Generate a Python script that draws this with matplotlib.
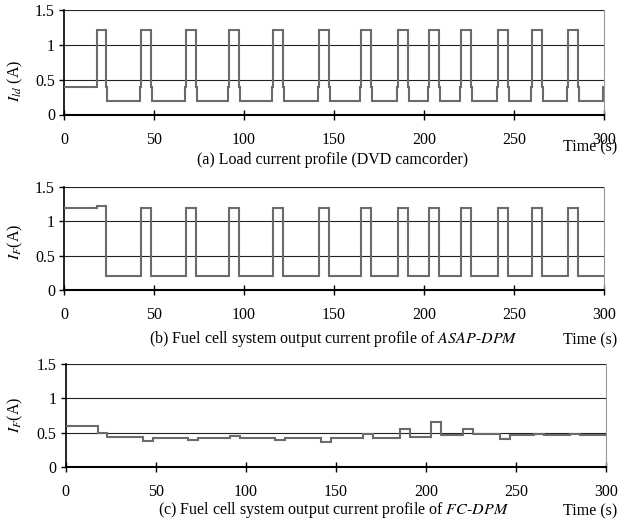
import numpy as np
import matplotlib
matplotlib.use("Agg")
import matplotlib.pyplot as plt

plt.rcParams['font.family'] = ['Liberation Serif', 'DejaVu Serif']
plt.rcParams['mathtext.fontset'] = 'stix'

# pulse edges (s)
rises = [18.3, 42.8, 67.8, 91.5, 116.3, 141.8, 165.0, 185.7, 202.8, 220.6, 241.3, 260.2, 280.2]
falls = [23.3, 48.3, 73.3, 97.0, 121.8, 147.4, 170.6, 191.3, 208.3, 226.1, 246.8, 265.7, 285.7]

# current levels (A)
load_start = 0.40
load_high = 1.22
load_low = 0.20
load_step = 0.40     # short intermediate level at each edge
load_tail = 299.5    # last rise back to 0.4

asap_start = [1.20, 1.22]
asap_high = 1.20
asap_low = 0.20

# FC-DPM output, one level per segment between consecutive edges
fc_levels = [0.60, 0.50, 0.43, 0.38, 0.42, 0.40, 0.42, 0.45, 0.42, 0.40,
             0.42, 0.37, 0.42, 0.48, 0.42, 0.55, 0.44, 0.66, 0.47, 0.55,
             0.48, 0.41, 0.47, 0.48, 0.47, 0.48, 0.47]

captions = ["(a) Load current profile (DVD camcorder)",
            "(b) Fuel cell system output current profile of $\\mathit{ASAP\\text{-}DPM}$",
            "(c) Fuel cell system output current profile of $\\mathit{FC\\text{-}DPM}$"]
ylabels = [r"$I_{ld}$ (A)", r"$I_F$(A)", r"$I_F$(A)"]

T_END = 300.0
NOTCH = 0.5

# ---- build step profiles ----
def load_profile():
    edges = [0.0]
    vals = []
    cur = load_start
    for r, f in zip(rises, falls):
        if cur != load_start:
            vals += [cur, load_step]
            edges += [r - NOTCH, r]
        else:
            vals += [cur]
            edges += [r]
        vals += [load_high, load_step]
        edges += [f, f + NOTCH]
        cur = load_low
    vals += [load_low, load_step]
    edges += [load_tail, T_END]
    return np.array(edges), np.array(vals)


def asap_profile():
    edges = [0.0, rises[0], falls[0]]
    vals = list(asap_start)
    for r, f in zip(rises[1:], falls[1:]):
        vals += [asap_low, asap_high]
        edges += [r, f]
    vals += [asap_low]
    edges += [T_END]
    return np.array(edges), np.array(vals)


def fc_profile():
    edges = [0.0]
    for r, f in zip(rises, falls):
        edges += [r, f]
    edges += [T_END]
    return np.array(edges), np.array(fc_levels)


W, H = 618, 523
fig = plt.figure(figsize=(W / 100, H / 100), dpi=100)

# axes boxes in pixels: left, top(1.5), right, bottom(0)
boxes = [(64, 10, 604, 114.5), (64, 187, 604, 290), (65.5, 364, 606, 467)]
label_y = [0.32, 0.47, 0.51]
cap_y = [160, 339, 510]
time_y = [147, 340, 511]
profiles = [load_profile(), asap_profile(), fc_profile()]

FS = 11.5
line_c = '#6b6b6b'
for i, (l, t, r, b) in enumerate(boxes):
    ax = fig.add_axes([l / W, 1 - b / H, (r - l) / W, (b - t) / H])
    edges, vals = profiles[i]
    ax.stairs(vals, edges, baseline=None, color=line_c, lw=1.5, zorder=3)
    ax.set_xlim(0, T_END)
    ax.set_ylim(0, 1.5)
    ax.set_xticks([0, 50, 100, 150, 200, 250, 300])
    ax.set_yticks([0, 0.5, 1, 1.5])
    ax.set_yticklabels(['0', '0.5', '1', '1.5'])
    for yv in [0.5, 1.0, 1.5]:
        ax.axhline(yv, color='#222222', lw=0.8, zorder=1)
    ax.spines['top'].set_visible(False)
    ax.spines['right'].set_color('#999999')
    ax.spines['right'].set_linewidth(0.8)
    ax.spines['left'].set_linewidth(1.2)
    ax.spines['bottom'].set_linewidth(1.5)
    ax.spines['bottom'].set_zorder(4)
    ax.tick_params(axis='x', direction='inout', length=6.5, width=1.0,
                   pad=9, labelsize=FS)
    ax.tick_params(axis='y', direction='out', length=3.5, width=1.0,
                   pad=3, labelsize=FS)
    ax.set_ylabel(ylabels[i], fontsize=FS, labelpad=0, va='center')
    ax.yaxis.set_label_coords(-(l - 15) / (r - l), label_y[i])
    fig.text(333 / W, 1 - cap_y[i] / H, captions[i], ha='center', va='center',
             fontsize=FS)
    fig.text(590 / W, 1 - time_y[i] / H, "Time (s)", ha='center', va='center',
             fontsize=FS)

fig.savefig("out.png", dpi=100)
